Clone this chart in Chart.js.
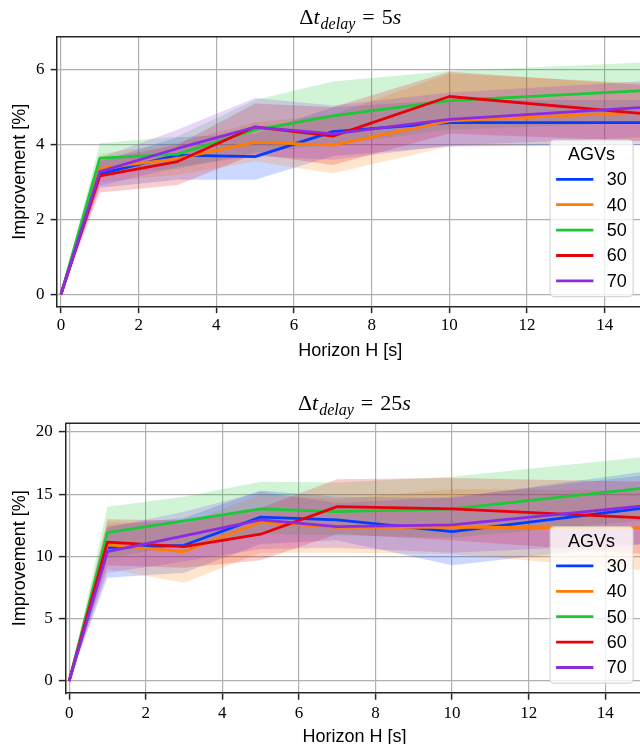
<!DOCTYPE html>
<html><head><meta charset="utf-8">
<script src="https://cdn.jsdelivr.net/npm/chart.js@4.4.1/dist/chart.umd.min.js"></script>
<style>
html,body{margin:0;padding:0;background:#fff;overflow:hidden;width:640px;height:744px;position:relative;}
.wrap{position:absolute;left:0;width:644px;height:372px;}
#w1{top:0}
#w2{top:372px}
canvas{display:block}
</style></head><body>
<div class="wrap" id="w1"><canvas id="c1" width="644" height="372"></canvas></div>
<div class="wrap" id="w2"><canvas id="c2" width="644" height="372"></canvas></div>
<script>
// ---- data ----
const horizon = [0, 1, 3, 5, 7, 10, 15];
const agvs = ['30', '40', '50', '60', '70'];
const legendTitle = 'AGVs';
const xTicks = [0, 2, 4, 6, 8, 10, 12, 14];
const yTicks5 = [0, 2, 4, 6];
const yTicks25 = [0, 5, 10, 15, 20];
const delays = ['5', '25'];
const xLabel = 'Horizon H [s]';
const yLabel = 'Improvement [%]';

// Δt_delay = 5s : mean, lower, upper (rows: 30,40,50,60,70 AGVs)
const mean5 = [
  [0, 3.22, 3.72, 3.68, 4.35, 4.59, 4.59],
  [0, 3.37, 3.63, 4.07, 3.99, 4.64, 4.87],
  [0, 3.64, 3.75, 4.40, 4.77, 5.18, 5.45],
  [0, 3.17, 3.55, 4.48, 4.23, 5.29, 4.83],
  [0, 3.28, 3.90, 4.47, 4.29, 4.68, 5.00]
];
const lo5 = [
  [0, 2.85, 3.06, 3.06, 3.70, 3.95, 4.00],
  [0, 3.00, 3.20, 3.55, 3.24, 3.95, 4.10],
  [0, 3.25, 3.35, 3.80, 4.00, 4.40, 4.60],
  [0, 2.72, 2.92, 3.75, 3.46, 4.30, 4.10],
  [0, 2.90, 3.40, 3.70, 3.60, 3.98, 4.20]
];
const hi5 = [
  [0, 3.55, 4.20, 4.30, 5.00, 5.20, 5.20],
  [0, 3.75, 4.05, 4.60, 4.80, 5.90, 5.65],
  [0, 4.04, 4.22, 5.20, 5.69, 5.97, 6.20],
  [0, 3.60, 4.00, 5.10, 5.00, 5.95, 5.60],
  [0, 3.65, 4.40, 5.25, 5.05, 5.40, 5.70]
];
// Δt_delay = 25s
const mean25 = [
  [0, 10.72, 10.90, 13.16, 12.94, 12.00, 13.88],
  [0, 10.93, 10.40, 12.75, 12.35, 12.35, 12.30],
  [0, 11.92, 12.86, 13.83, 13.61, 13.83, 15.50],
  [0, 11.15, 10.80, 11.79, 14.01, 13.83, 13.10],
  [0, 10.40, 11.66, 12.94, 12.40, 12.54, 14.07]
];
const lo25 = [
  [0, 8.3, 8.7, 11.0, 11.3, 9.3, 11.0],
  [0, 9.0, 7.9, 10.3, 10.3, 10.2, 8.9],
  [0, 9.9, 10.9, 11.8, 11.7, 11.5, 12.9],
  [0, 9.3, 9.1, 9.7, 11.8, 11.3, 10.2],
  [0, 8.7, 9.6, 10.6, 10.7, 10.3, 11.0]
];
const hi25 = [
  [0, 12.5, 13.1, 15.3, 14.8, 14.7, 16.8],
  [0, 12.8, 12.6, 15.0, 14.6, 15.4, 15.3],
  [0, 14.0, 14.8, 16.0, 15.95, 16.4, 18.0],
  [0, 13.0, 12.9, 13.9, 16.2, 16.3, 16.0],
  [0, 12.3, 13.6, 15.2, 14.3, 14.8, 16.5]
];

// ---- styling ----
const colors = ['#023eff', '#ff7c00', '#1ac938', '#e8000b', '#8b2be2'];
function rgba(hex, a) {
  const n = parseInt(hex.slice(1), 16);
  return `rgba(${(n >> 16) & 255},${(n >> 8) & 255},${n & 255},${a})`;
}
const SPINE = '#262626';
const GRID = '#b0b0b0';

function buildDatasets(mean, lo, hi) {
  const ds = [];
  agvs.forEach((a, i) => {
    ds.push({ label: a + ' hi', isBand: true, data: horizon.map((x, j) => ({ x, y: hi[i][j] })),
      borderWidth: 0, pointRadius: 0, fill: false, order: 20 - i, borderColor: 'transparent' });
    ds.push({ label: a + ' lo', isBand: true, data: horizon.map((x, j) => ({ x, y: lo[i][j] })),
      borderWidth: 0, pointRadius: 0, fill: '-1', backgroundColor: rgba(colors[i], 0.2),
      order: 20 - i, borderColor: 'transparent' });
  });
  agvs.forEach((a, i) => {
    ds.push({ label: a, data: horizon.map((x, j) => ({ x, y: mean[i][j] })),
      borderColor: colors[i], backgroundColor: colors[i], borderWidth: 2.8, pointRadius: 0,
      fill: false, tension: 0, borderJoinStyle: 'round', order: 5 - i });
  });
  return ds;
}

const framePlugin = {
  id: 'frame',
  afterDatasetsDraw(chart) {
    const { ctx, chartArea: ca } = chart;
    ctx.save();
    ctx.strokeStyle = SPINE; ctx.lineWidth = 1.5;
    ctx.beginPath();
    ctx.moveTo(ca.left, ca.top); ctx.lineTo(ca.right, ca.top); ctx.lineTo(ca.right, ca.bottom);
    ctx.stroke();
    ctx.restore();
  }
};

const mathTitlePlugin = {
  id: 'mathTitle',
  afterDraw(chart, args, opts) {
    const { ctx, chartArea: ca } = chart;
    const big = 22, small = 16;
    const parts = [
      { t: '\u0394', f: `${big}px "Liberation Serif"`, dy: 0 },
      { t: 't', f: `italic ${big}px "Liberation Serif"`, dy: 0 },
      { t: 'delay', f: `italic ${small}px "Liberation Serif"`, dy: 5, pre: 1 },
      { t: '=', f: `${big}px "Liberation Serif"`, dy: 0, pre: 7, post: 7 },
      { t: opts.delay, f: `${big}px "Liberation Serif"`, dy: 0 },
      { t: 's', f: `italic ${big}px "Liberation Serif"`, dy: 0 }
    ];
    ctx.save();
    let total = 0;
    parts.forEach(p => { ctx.font = p.f; p.w = ctx.measureText(p.t).width; total += p.w + (p.pre || 0) + (p.post || 0); });
    let x = (ca.left + ca.right) / 2 - total / 2;
    const base = ca.top - opts.gap;
    ctx.fillStyle = '#000'; ctx.textBaseline = 'alphabetic'; ctx.textAlign = 'left';
    parts.forEach(p => {
      x += p.pre || 0;
      ctx.font = p.f; ctx.fillText(p.t, x, base + p.dy);
      x += p.w + (p.post || 0);
    });
    ctx.restore();
  }
};

const legendPlugin = {
  id: 'agvLegend',
  afterDraw(chart) {
    const { ctx, chartArea: ca } = chart;
    const w = 83, h = 156.6;
    const x1 = ca.right - 10.4 - w, y1 = ca.bottom - 10 - h;
    ctx.save();
    ctx.beginPath();
    const r = 4;
    ctx.moveTo(x1 + r, y1); ctx.lineTo(x1 + w - r, y1); ctx.arcTo(x1 + w, y1, x1 + w, y1 + r, r);
    ctx.lineTo(x1 + w, y1 + h - r); ctx.arcTo(x1 + w, y1 + h, x1 + w - r, y1 + h, r);
    ctx.lineTo(x1 + r, y1 + h); ctx.arcTo(x1, y1 + h, x1, y1 + h - r, r);
    ctx.lineTo(x1, y1 + r); ctx.arcTo(x1, y1, x1 + r, y1, r);
    ctx.closePath();
    ctx.fillStyle = 'rgba(255,255,255,0.8)'; ctx.fill();
    ctx.strokeStyle = 'rgba(204,204,204,0.8)'; ctx.lineWidth = 1.2; ctx.stroke();
    ctx.fillStyle = '#000';
    ctx.font = '18px "Liberation Sans"';
    ctx.textAlign = 'center'; ctx.textBaseline = 'middle';
    ctx.fillText(legendTitle, x1 + w / 2, y1 + 15.5);
    ctx.textAlign = 'left';
    chart.data.datasets.filter(d => !d.isBand).forEach((d, i) => {
      const y = y1 + 39.3 + i * 25.4;
      ctx.strokeStyle = d.borderColor; ctx.lineWidth = 2.8;
      ctx.beginPath(); ctx.moveTo(x1 + 6, y); ctx.lineTo(x1 + 43.3, y); ctx.stroke();
      ctx.fillText(d.label, x1 + 56.7, y + 1);
    });
    ctx.restore();
  }
};

function makeChart(id, mean, lo, hi, yMin, yMax, yTicks, cfg) {
  return new Chart(document.getElementById(id), {
    type: 'line',
    data: { datasets: buildDatasets(mean, lo, hi) },
    plugins: [framePlugin, mathTitlePlugin, legendPlugin],
    options: {
      responsive: false, animation: false, events: [],
      layout: { padding: { top: cfg.top, left: 0, right: 0.5, bottom: 0 } },
      plugins: {
        legend: { display: false }, tooltip: { enabled: false },
        mathTitle: { delay: cfg.delay, gap: cfg.gap },
        filler: { propagate: false }
      },
      scales: {
        x: {
          type: 'linear', min: -0.1, max: 15,
          afterBuildTicks: s => { s.ticks = xTicks.map(v => ({ value: v })); },
          afterFit: s => { s.height = cfg.xh; },
          grid: { color: GRID, lineWidth: 1.2, tickColor: SPINE, tickLength: 6.5, tickWidth: 1.5 },
          border: { color: SPINE, width: 1.5 },
          ticks: { color: '#000', font: { family: 'Liberation Serif', size: 17 }, padding: cfg.xpad, maxRotation: 0,
            callback: v => String(v) },
          title: { display: true, text: xLabel, color: '#000',
            font: { family: 'Liberation Sans', size: 18, lineHeight: 1 }, padding: { top: 0, bottom: cfg.tpad } }
        },
        y: {
          type: 'linear', min: yMin, max: yMax,
          afterBuildTicks: s => { s.ticks = yTicks.map(v => ({ value: v })); },
          afterFit: s => { s.width = cfg.yw; },
          grid: { color: GRID, lineWidth: 1.2, tickColor: SPINE, tickLength: 6.5, tickWidth: 1.5 },
          border: { color: SPINE, width: 1.5 },
          ticks: { color: '#000', font: { family: 'Liberation Serif', size: 17 }, padding: 6,
            callback: v => String(v) },
          title: { display: true, text: yLabel, color: '#000',
            font: { family: 'Liberation Sans', size: 18, lineHeight: 1 }, padding: { top: 11, bottom: 0 } }
        }
      }
    }
  });
}

makeChart('c1', mean5, lo5, hi5, -0.33, 6.89, yTicks5,
  { top: 36.7, xh: 65.4, yw: 57.1, xpad: 2.5, tpad: 12, delay: delays[0], gap: 13 });
makeChart('c2', mean25, lo25, hi25, -0.98, 20.7, yTicks25,
  { top: 51.3, xh: 50.8, yw: 65.3, xpad: 3.5, tpad: -2, delay: delays[1], gap: 13 });
</script>
</body></html>
